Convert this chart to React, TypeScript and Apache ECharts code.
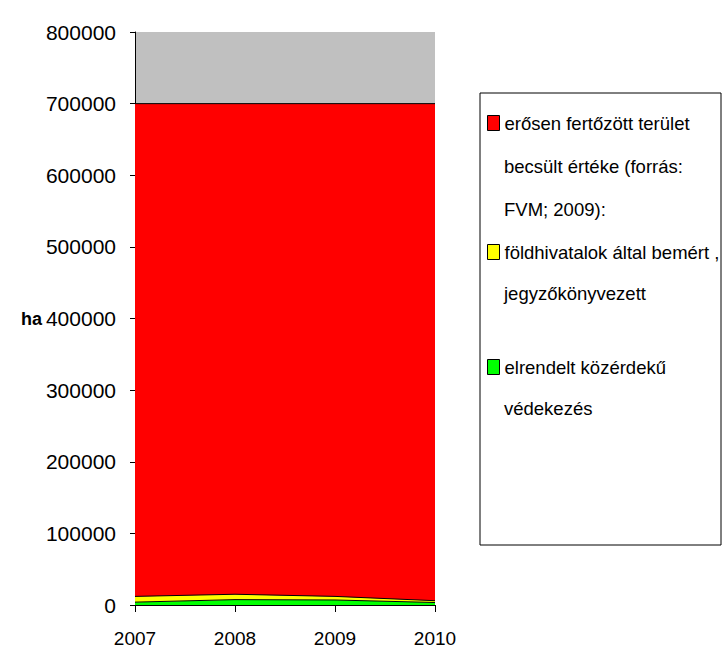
import React, { useEffect, useRef } from "react";
import * as echarts from "echarts";

const years = ["2007", "2008", "2009", "2010"];
const greenValues = [4000, 7500, 7000, 3500];
const yellowValues = [8000, 7500, 5000, 2500];
const redValues = [688000, 685000, 688000, 694000];
const yTicks = { min: 0, max: 800000, interval: 100000 };

const nameRed = "erősen fertőzött terület\nbecsült értéke (forrás:\nFVM; 2009):";
const nameYellow = "földhivatalok által bemért ,\njegyzőkönyvezett";
const nameGreen = "elrendelt közérdekű\nvédekezés";

const FONT = "'Liberation Sans', Arial, sans-serif";
const LEG_FONT = 18.5;

function legendFor(name: string, iconCenter: number) {
  return {
    show: true,
    orient: "vertical",
    left: 487,
    top: iconCenter - 10,
    padding: 0,
    selectedMode: false,
    itemWidth: 12,
    itemHeight: 15,
    icon: "rect",
    itemStyle: { borderColor: "#000", borderWidth: 1 },
    formatter: (n: string) => n.split("\n")[0],
    textStyle: {
      fontFamily: FONT,
      fontSize: LEG_FONT,
      color: "#000",
      lineHeight: 20,
    },
    data: [{ name, icon: "rect" }],
  };
}

function contLines(name: string, ys: number[]) {
  const lines = name.split("\n").slice(1);
  return lines.map((t, i) => ({
    type: "text",
    z: 10,
    x: 504,
    y: ys[i],
    style: {
      text: t,
      fill: "#000",
      font: `${LEG_FONT}px ${FONT}`,
      textVerticalAlign: "middle",
      verticalAlign: "middle",
      align: "left",
    },
  }));
}

export default function App() {
  const ref = useRef<HTMLDivElement>(null);
  useEffect(() => {
    if (!ref.current) return;
    const chart = echarts.init(ref.current, undefined, { renderer: "svg" });
    const series = [
      { name: nameGreen, color: "#00ff00", data: greenValues },
      { name: nameYellow, color: "#ffff00", data: yellowValues },
      { name: nameRed, color: "#ff0000", data: redValues },
    ].map((s) => ({
      name: s.name,
      type: "line",
      stack: "total",
      data: s.data,
      showSymbol: false,
      symbol: "none",
      itemStyle: { color: s.color },
      lineStyle: { color: "#000", width: 1 },
      areaStyle: { color: s.color, opacity: 1 },
    }));
    chart.setOption({
      animation: false,
      backgroundColor: "#fff",
      textStyle: { fontFamily: FONT },
      grid: {
        left: 135,
        right: 291,
        top: 32,
        bottom: 63,
        show: true,
        backgroundColor: "#c0c0c0",
        borderWidth: 0,
        containLabel: false,
      },
      graphic: [
        {
          type: "rect",
          z: 0,
          shape: { x: 480, y: 93, width: 241, height: 452 },
          style: { fill: "#fff", stroke: "#000", lineWidth: 1 },
        },
        ...contLines(nameRed, [166, 209]),
        ...contLines(nameYellow, [293]),
        ...contLines(nameGreen, [408]),
      ],
      legend: [
        legendFor(nameRed, 123),
        legendFor(nameYellow, 252),
        legendFor(nameGreen, 367),
      ],
      xAxis: {
        type: "category",
        data: years,
        boundaryGap: false,
        axisLine: { show: true, lineStyle: { color: "#000", width: 1 } },
        axisTick: { show: true, length: 7, lineStyle: { color: "#000" } },
        axisLabel: { color: "#000", fontSize: 19, margin: 24, fontFamily: FONT },
        splitLine: { show: false },
      },
      yAxis: {
        type: "value",
        min: yTicks.min,
        max: yTicks.max,
        interval: yTicks.interval,
        name: "ha",
        nameLocation: "middle",
        nameRotate: 0,
        nameGap: 93,
        nameMoveOverlap: false,
        nameTextStyle: { color: "#000", fontSize: 18, fontWeight: "bold", fontFamily: FONT },
        axisLine: { show: true, lineStyle: { color: "#000", width: 1 } },
        axisTick: { show: true, length: 5, lineStyle: { color: "#000" } },
        axisLabel: {
          color: "#000",
          fontSize: 21,
          margin: 19,
          fontFamily: FONT,
          formatter: (v: number) => String(v),
        },
        splitLine: { show: false },
      },
      series,
    });
    return () => chart.dispose();
  }, []);
  return <div ref={ref} style={{ width: 726, height: 668, position: "absolute", left: 0, top: 0 }} />;
}
